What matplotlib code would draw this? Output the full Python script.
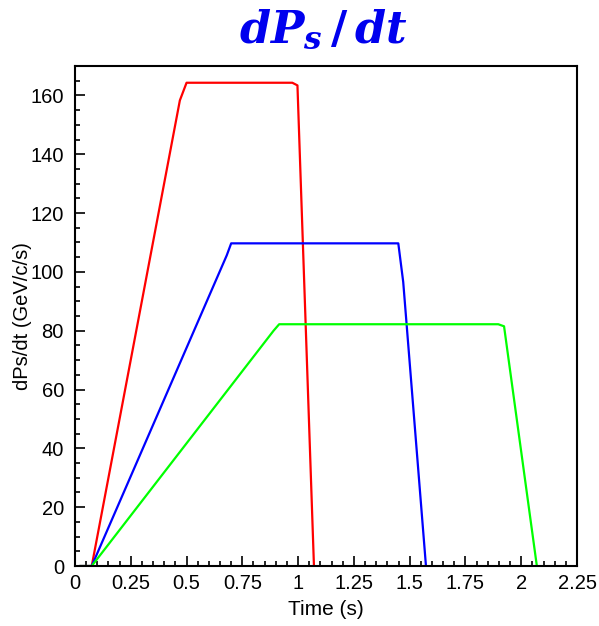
import matplotlib
matplotlib.use("Agg")
import matplotlib.pyplot as plt
from matplotlib.ticker import MultipleLocator

plt.rcParams['font.family'] = ['Liberation Sans', 'DejaVu Sans']
plt.rcParams['mathtext.fontset'] = 'custom'
plt.rcParams['mathtext.it'] = 'DejaVu Serif:italic:bold'
plt.rcParams['mathtext.rm'] = 'DejaVu Serif:bold'

# time points (s) and dPs/dt values (GeV/c/s) for the three cycles
t_red = [0.025, 0.075, 0.47, 0.50, 0.974, 0.997, 1.071]
p_red = [0.0, 0.0, 158.3, 164.3, 164.3, 163.4, 0.0]

t_blue = [0.025, 0.075, 0.68, 0.70, 1.449, 1.471, 1.573]
p_blue = [0.0, 0.0, 105.6, 109.7, 109.7, 96.6, 0.0]

t_green = [0.025, 0.075, 0.89, 0.915, 1.897, 1.923, 2.07]
p_green = [0.0, 0.0, 80.0, 82.2, 82.2, 81.5, 0.0]

xticks = [0, 0.25, 0.5, 0.75, 1, 1.25, 1.5, 1.75, 2, 2.25]
xticklabels = ["0", "0.25", "0.5", "0.75", "1", "1.25", "1.5", "1.75", "2", "2.25"]

fig = plt.figure(figsize=(5.99, 6.26), dpi=100)
ax = fig.add_axes([0.1252, 0.0958, 0.8381, 0.7988])

ax.plot(t_red, p_red, color='#ff0000', lw=1.6)
ax.plot(t_blue, p_blue, color='#0000ff', lw=1.6)
ax.plot(t_green, p_green, color='#00ff00', lw=1.6)

ax.set_xlim(0, 2.25)
ax.set_ylim(0, 170)
ax.set_xticks(xticks)
ax.set_xticklabels(xticklabels)
ax.xaxis.set_minor_locator(MultipleLocator(0.05))
ax.yaxis.set_major_locator(MultipleLocator(20))
ax.yaxis.set_minor_locator(MultipleLocator(5))
ax.tick_params(which='both', direction='in', top=False, right=False,
               labelsize=14.5, width=1.2)
ax.tick_params(axis='x', which='major', length=7, pad=6)
ax.tick_params(axis='y', which='major', length=7, pad=8)
ax.tick_params(which='minor', length=3.5)
for s in ax.spines.values():
    s.set_linewidth(1.5)

ax.set_xlabel("Time (s)", fontsize=15, labelpad=5)
ax.set_ylabel("dPs/dt (GeV/c/s)", fontsize=14.5)
ax.yaxis.set_label_coords(-0.086, 0.5)

fig.text(0.54, 0.952, r"$dP_s\,/\,dt$", color='#0000ee',
         fontsize=32, ha='center', va='center')

fig.savefig("out.png", dpi=100)
